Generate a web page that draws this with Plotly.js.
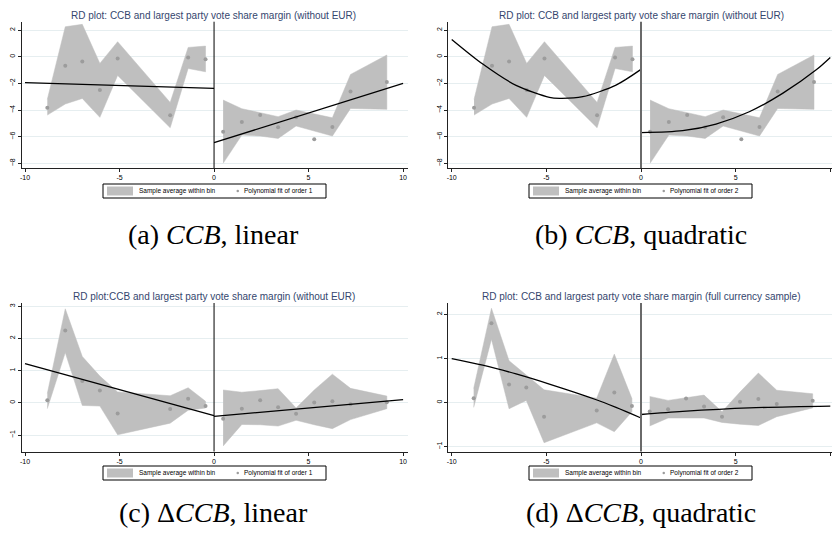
<!DOCTYPE html>
<html><head><meta charset="utf-8">
<script src="https://cdn.plot.ly/plotly-3.0.1.min.js"></script>
<style>html,body{margin:0;padding:0;background:#fff;} #chart{width:832px;height:537px;}</style>
</head><body><div id="chart"></div>
<script>
// ---------- DATA ----------
const xTicks = [-10, -5, 0, 5, 10];
const xTickText = ['-10', '-5', '0', '5', '10'];
const yTicksCCB = [-8, -6, -4, -2, 0, 2];
const yTicksDCCB1 = [-1, 0, 1, 2, 3];
const yTicksDCCB2 = [-1, 0, 1, 2];

// CCB (panels a, b) — bin means and band edges
const ccbXL = [-8.82, -7.87, -6.97, -6.04, -5.10, -2.32, -1.37, -0.45];
const ccbYL = [-3.83, -0.68, -0.35, -2.50, -0.13, -4.40, -0.05, -0.18];
const ccbHiL = [-3.20, 2.25, 2.43, -0.50, 1.13, -3.43, 0.70, 0.80];
const ccbLoL = [-4.38, -3.55, -3.13, -4.55, -1.40, -5.33, -0.88, -1.13];
const ccbXR = [0.48, 1.47, 2.44, 3.39, 4.34, 5.30, 6.26, 7.22, 9.14];
const ccbYR = [-5.63, -4.90, -4.38, -5.30, -4.55, -6.20, -5.28, -2.60, -1.90];
const ccbHiR = [-3.25, -3.90, -4.20, -4.50, -4.00, -4.30, -4.58, -1.33, 0.13];
const ccbLoR = [-8.00, -5.88, -5.95, -6.13, -5.20, -5.58, -5.95, -3.88, -3.95];

// panel a fits (order 1)
const fitAxL = [-10, 0], fitAyL = [-1.95, -2.38];
const fitAxR = [0, 10], fitAyR = [-6.45, -2.00];
// panel b fits (order 2)
const fitBxL = [-10, -8.36, -6.6, -4.84, -4.3, -3.08, -1.32, 0];
const fitByL = [1.30, -0.55, -2.15, -3.05, -3.12, -3.00, -2.13, -0.95];
const fitBxR = [0, 2.2, 3.96, 5.72, 7.48, 9.24, 10];
const fitByR = [-5.70, -5.55, -5.05, -4.13, -2.75, -1.00, -0.05];

// Delta CCB (panel c)
const dXL = [-8.82, -7.87, -6.97, -6.04, -5.10, -2.32, -1.37, -0.45];
const dYL = [0.08, 2.25, 0.68, 0.38, -0.33, -0.19, 0.13, -0.10];
const dHiL = [0.29, 2.92, 1.44, 0.83, 0.34, 0.22, 0.47, 0.05];
const dLoL = [-0.18, 1.56, -0.08, -0.10, -0.99, -0.63, -0.23, -0.16];
const dXR = [0.48, 1.47, 2.44, 3.39, 4.34, 5.30, 6.26, 7.22, 9.14];
const dYR = [-0.49, -0.18, 0.08, -0.14, -0.34, 0.01, 0.05, -0.04, 0.02];
const dHiR = [0.40, 0.33, 0.38, 0.44, -0.16, 0.40, 0.89, 0.45, 0.21];
const dLoR = [-1.34, -0.67, -0.68, -0.72, -0.54, -0.68, -0.80, -0.52, -0.18];
const fitCxL = [-10, 0], fitCyL = [1.22, -0.40];
const fitCxR = [0, 10], fitCyR = [-0.42, 0.10];

// Delta CCB full currency sample (panel d)
const eXL = [-8.84, -7.90, -6.97, -6.06, -5.12, -2.34, -1.41, -0.48];
const eYL = [0.10, 1.80, 0.41, 0.34, -0.32, -0.18, 0.23, -0.08];
const eHiL = [0.32, 2.14, 0.95, 0.62, 0.29, 0.10, 1.10, 0.09];
const eLoL = [-0.11, 1.44, -0.14, 0.05, -0.91, -0.46, -0.66, -0.21];
const eXR = [0.46, 1.43, 2.38, 3.33, 4.28, 5.23, 6.20, 7.17, 9.07];
const eYR = [-0.20, -0.15, 0.09, -0.09, -0.32, 0.02, 0.08, -0.03, 0.04];
const eHiR = [0.14, 0.05, 0.11, 0.17, -0.21, 0.24, 0.67, 0.28, 0.20];
const eLoR = [-0.53, -0.35, -0.35, -0.35, -0.45, -0.49, -0.52, -0.32, -0.12];
const fitDxL = [-10, -8.36, -6.6, -4.84, -2.4, -1.32, 0];
const fitDyL = [1.00, 0.85, 0.65, 0.42, 0.07, -0.11, -0.35];
const fitDxR = [0, 2.2, 5.72, 10];
const fitDyR = [-0.27, -0.20, -0.12, -0.08];

const titles = [
  'RD plot: CCB and largest party vote share margin (without EUR)',
  'RD plot: CCB and largest party vote share margin (without EUR)',
  'RD plot:CCB and largest party vote share margin (without EUR)',
  'RD plot: CCB and largest party vote share margin (full currency sample)'
];
const legendBand = 'Sample average within bin';
const legendDot = ['Polynomial fit of order 1', 'Polynomial fit of order 2', 'Polynomial fit of order 1', 'Polynomial fit of order 2'];
const captions = ['(a) <i>CCB</i>, linear', '(b) <i>CCB</i>, quadratic', '(c) Δ<i>CCB</i>, linear', '(d) Δ<i>CCB</i>, quadratic'];

// ---------- STYLE / LAYOUT ----------
const W = 832, H = 537;
const PX = v => v / W, PY = v => 1 - v / H;
const BAND = '#bfbfbf', DOT = '#9c9c9c', TITLE = '#34466e';
const SANS = 'Liberation Sans, Arial, sans-serif';

const traces = [];
function band(xs, hi, lo, ax) {
  return {x: xs.concat(xs.slice().reverse()), y: hi.concat(lo.slice().reverse()),
    xaxis: 'x' + ax, yaxis: 'y' + ax, type: 'scatter', mode: 'lines', fill: 'toself',
    fillcolor: BAND, line: {color: BAND, width: 0.5}, hoverinfo: 'skip', showlegend: false};
}
function dots(xs, ys, ax) {
  return {x: xs, y: ys, xaxis: 'x' + ax, yaxis: 'y' + ax, type: 'scatter', mode: 'markers',
    marker: {color: DOT, size: 4}, showlegend: false};
}
function fit(xs, ys, ax, spline) {
  return {x: xs, y: ys, xaxis: 'x' + ax, yaxis: 'y' + ax, type: 'scatter', mode: 'lines',
    line: {color: '#000', width: 1.3, shape: spline ? 'spline' : 'linear', smoothing: 0.8}, showlegend: false};
}
const panels = [
  {ax: '', XL: ccbXL, YL: ccbYL, HL: ccbHiL, LL: ccbLoL, XR: ccbXR, YR: ccbYR, HR: ccbHiR, LR: ccbLoR, fxl: fitAxL, fyl: fitAyL, fxr: fitAxR, fyr: fitAyR, sp: false},
  {ax: '2', XL: ccbXL, YL: ccbYL, HL: ccbHiL, LL: ccbLoL, XR: ccbXR, YR: ccbYR, HR: ccbHiR, LR: ccbLoR, fxl: fitBxL, fyl: fitByL, fxr: fitBxR, fyr: fitByR, sp: true},
  {ax: '3', XL: dXL, YL: dYL, HL: dHiL, LL: dLoL, XR: dXR, YR: dYR, HR: dHiR, LR: dLoR, fxl: fitCxL, fyl: fitCyL, fxr: fitCxR, fyr: fitCyR, sp: false},
  {ax: '4', XL: eXL, YL: eYL, HL: eHiL, LL: eLoL, XR: eXR, YR: eYR, HR: eHiR, LR: eLoR, fxl: fitDxL, fyl: fitDyL, fxr: fitDxR, fyr: fitDyR, sp: true}
];
panels.forEach(p => {
  traces.push(band(p.XL, p.HL, p.LL, p.ax));
  traces.push(band(p.XR, p.HR, p.LR, p.ax));
  traces.push(dots(p.XL, p.YL, p.ax));
  traces.push(dots(p.XR, p.YR, p.ax));
  traces.push(fit(p.fxl, p.fyl, p.ax, p.sp));
  traces.push(fit(p.fxr, p.fyr, p.ax, p.sp));
});

function xax(dom, rng, anchor) {
  return {domain: dom, range: rng, anchor: anchor, tickvals: xTicks, ticktext: xTickText,
    showline: true, linecolor: '#222', linewidth: 1, ticks: 'outside', ticklen: 3, tickwidth: 1,
    tickcolor: '#222', tickfont: {family: SANS, size: 7, color: '#000'}, showgrid: false,
    zeroline: false, fixedrange: true};
}
function yax(dom, rng, anchor, tv) {
  return {domain: dom, range: rng, anchor: anchor, tickvals: tv, showline: true, linecolor: '#222',
    linewidth: 1, ticks: 'outside', ticklen: 3, tickwidth: 1, tickcolor: '#222', tickangle: -90,
    tickfont: {family: SANS, size: 7, color: '#000'}, showgrid: true, gridcolor: '#e6eef0',
    gridwidth: 1, zeroline: false, fixedrange: true};
}
const xdL = [PX(21.7), PX(408)], xdR = [PX(448.3), 1];
const ydT = [PY(168), PY(21.7)], ydB = [PY(451.5), PY(303)];

const layout = {
  width: W, height: H, margin: {l: 0, r: 0, t: 0, b: 0}, paper_bgcolor: '#fff', plot_bgcolor: '#fff',
  showlegend: false,
  xaxis: xax(xdL, [-10.175, 10.26], 'y'),
  yaxis: yax(ydT, [-8.35, 2.63], 'x', yTicksCCB),
  xaxis2: xax(xdR, [-10.18, 10.09], 'y2'),
  yaxis2: yax(ydT, [-8.35, 2.63], 'x2', yTicksCCB),
  xaxis3: xax(xdL, [-10.175, 10.26], 'y3'),
  yaxis3: yax(ydB, [-1.51, 3.10], 'x3', yTicksDCCB1),
  xaxis4: xax(xdR, [-10.18, 10.09], 'y4'),
  yaxis4: yax(ydB, [-1.11, 2.26], 'x4', yTicksDCCB2),
  shapes: [], annotations: []
};

// cutoff lines at 0
[['x', 'y', '#000', 1], ['x2', 'y2', '#6a6a6a', 2], ['x3', 'y3', '#000', 1], ['x4', 'y4', '#6a6a6a', 2]].forEach(s => {
  layout.shapes.push({type: 'line', xref: s[0], yref: s[1] + ' domain', x0: 0, x1: 0, y0: 0, y1: 1,
    line: {color: s[2], width: s[3]}});
});

// titles, legends, captions
const centersX = [214, 641, 214, 641];
const titleY = [15, 15, 296, 296];
const legY = [184, 184, 466, 466];
const legX = [103, 529, 103, 529];
const capY = [234, 234, 512, 512];
for (let i = 0; i < 4; i++) {
  layout.annotations.push({xref: 'paper', yref: 'paper', x: PX(centersX[i]), y: PY(titleY[i]),
    text: titles[i], showarrow: false, xanchor: 'center', yanchor: 'middle',
    font: {family: SANS, size: 10, color: TITLE}});
  const lx = legX[i], ly = legY[i];
  layout.shapes.push({type: 'rect', xref: 'paper', yref: 'paper', x0: PX(lx), x1: PX(lx + 223),
    y0: PY(ly + 14), y1: PY(ly), line: {color: '#000', width: 1}, fillcolor: '#fff'});
  layout.shapes.push({type: 'rect', xref: 'paper', yref: 'paper', x0: PX(lx + 4), x1: PX(lx + 30),
    y0: PY(ly + 11.5), y1: PY(ly + 2.5), line: {color: BAND, width: 0}, fillcolor: BAND});
  layout.shapes.push({type: 'circle', xref: 'paper', yref: 'paper', x0: PX(lx + 133.5), x1: PX(lx + 136),
    y0: PY(ly + 8.3), y1: PY(ly + 5.8), line: {color: DOT, width: 0}, fillcolor: DOT});
  layout.annotations.push({xref: 'paper', yref: 'paper', x: PX(lx + 34), y: PY(ly + 7),
    text: legendBand, showarrow: false, xanchor: 'left', yanchor: 'middle',
    font: {family: SANS, size: 6.5, color: '#000'}});
  layout.annotations.push({xref: 'paper', yref: 'paper', x: PX(lx + 139), y: PY(ly + 7),
    text: legendDot[i], showarrow: false, xanchor: 'left', yanchor: 'middle',
    font: {family: SANS, size: 6.5, color: '#000'}});
  layout.annotations.push({xref: 'paper', yref: 'paper', x: PX(centersX[i]), y: PY(capY[i]),
    text: captions[i], showarrow: false, xanchor: 'center', yanchor: 'middle',
    font: {family: 'Liberation Serif, DejaVu Serif, serif', size: 28, color: '#000'}});
}

Plotly.newPlot('chart', traces, layout, {staticPlot: true, displayModeBar: false});
</script></body></html>
